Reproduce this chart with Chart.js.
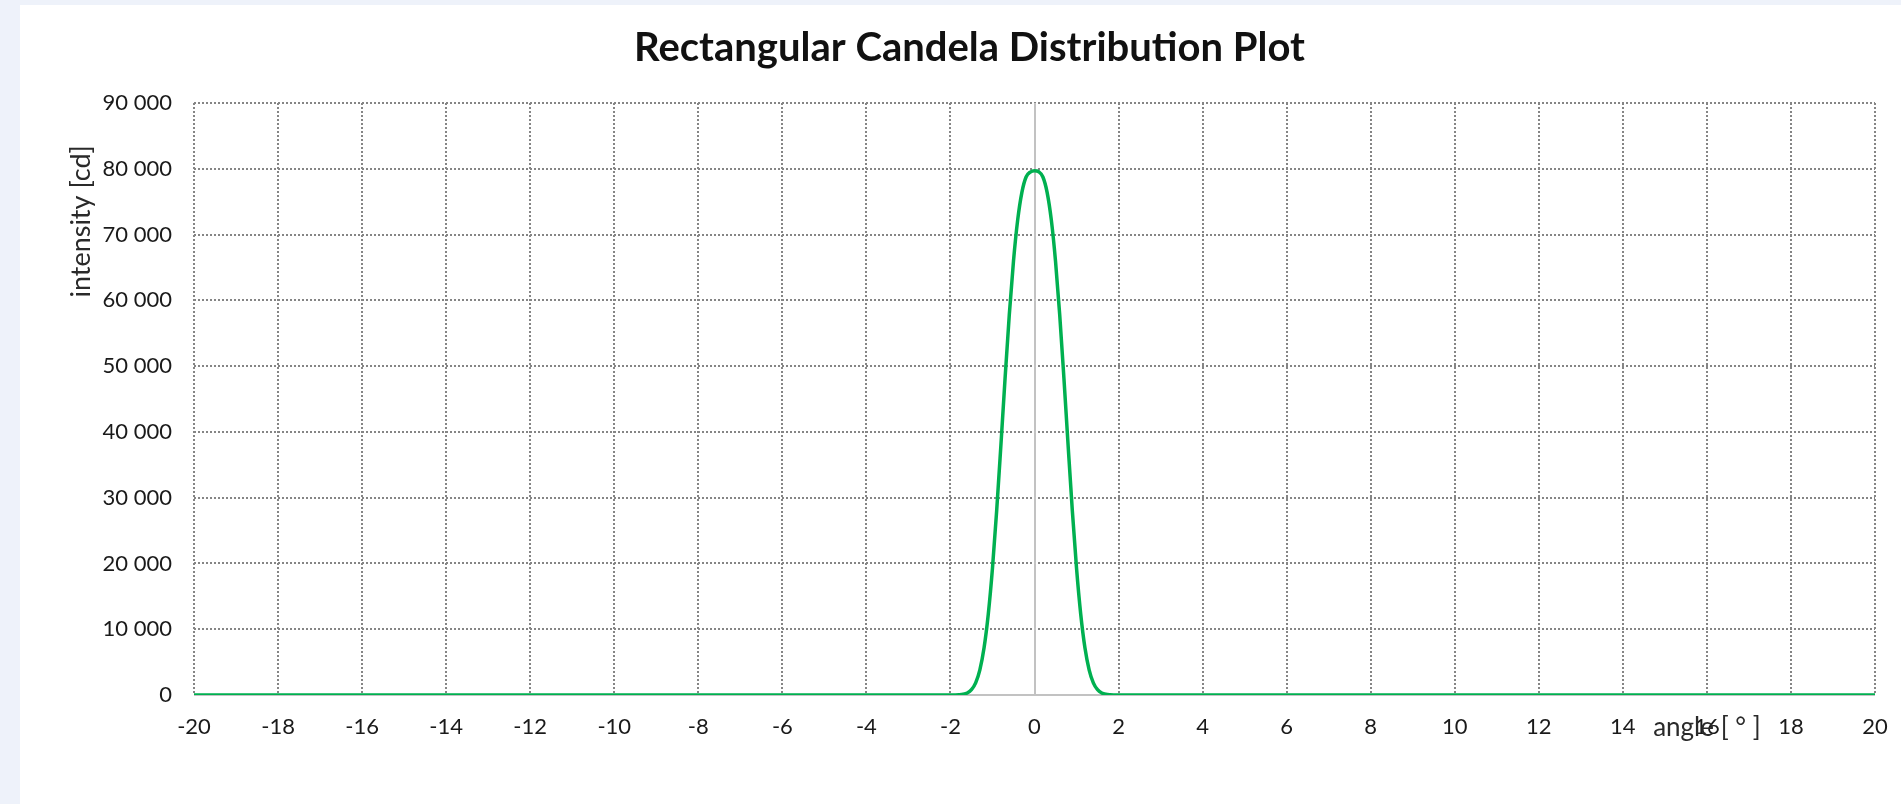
<!DOCTYPE html>
<html>
<head>
<meta charset="utf-8">
<title>Rectangular Candela Distribution Plot</title>
<script src="https://cdn.jsdelivr.net/npm/chart.js@4/dist/chart.umd.min.js"></script>
<style>
  html, body { margin: 0; padding: 0; width: 1901px; height: 804px; overflow: hidden; background: #eef2fa; }
  #card { position: absolute; left: 20px; top: 5px; width: 1899px; height: 799px; background: #ffffff; }
  #plot { display: block; }
</style>
</head>
<body>
<div id="card"><canvas id="plot" width="1899" height="799"></canvas></div>
<script>
// Beam profile: angle in degrees, luminous intensity in candela
const angles = [
  -20, -2, -1.9, -1.8, -1.7, -1.6, -1.5, -1.4, -1.3, -1.2, -1.1, -1.0,
  -0.9, -0.8, -0.7, -0.6, -0.5, -0.4, -0.3, -0.2, -0.1, 0,
  0.1, 0.2, 0.3, 0.4, 0.5, 0.6, 0.7, 0.8, 0.9, 1.0,
  1.1, 1.2, 1.3, 1.4, 1.5, 1.6, 1.7, 1.8, 1.9, 2, 20
];
const intensity = [
  0, 2, 9, 32, 106, 310, 800, 1840, 3820, 7170, 12270, 19280,
  28030, 37930, 48160, 57780, 65970, 72230, 76420, 78750, 79500, 79700,
  79550, 78750, 76420, 72230, 65970, 57780, 48160, 37930, 28030, 19280,
  12270, 7170, 3820, 1840, 800, 310, 106, 32, 9, 2, 0
];

const chartTitle = 'Rectangular Candela Distribution Plot';
const xAxisTitle = 'angle [ ° ]';
const yAxisTitle = 'intensity [cd]';

const FONT = "Lato, 'Open Sans', sans-serif";
const GRID = '#858585';
const AXIS = '#c2c2c2';
const LINE = '#00b050';

function spaced(v) {
  return String(v).replace(/\B(?=(\d{3})+(?!\d))/g, ' ');
}

// Solid axis lines through x = 0 and y = 0, plus the two axis captions
const axisDecor = {
  id: 'axisDecor',
  beforeDatasetsDraw(chart) {
    const { ctx, chartArea: a, scales: { x, y } } = chart;
    ctx.save();
    ctx.strokeStyle = AXIS;
    ctx.lineWidth = 2;
    const x0 = Math.round(x.getPixelForValue(0));
    const y0 = Math.round(y.getPixelForValue(0));
    ctx.beginPath();
    ctx.moveTo(x0, a.top);
    ctx.lineTo(x0, a.bottom);
    ctx.moveTo(a.left, y0);
    ctx.lineTo(a.right, y0);
    ctx.stroke();
    ctx.restore();
  },
  afterDraw(chart) {
    const { ctx, chartArea: a, scales: { x, y } } = chart;
    ctx.save();
    ctx.fillStyle = '#2a2a2a';
    ctx.font = '26px ' + FONT;
    ctx.textAlign = 'center';
    ctx.textBaseline = 'middle';
    ctx.fillText(xAxisTitle, x.getPixelForValue(16), a.bottom + 33);
    ctx.translate(a.left - 113, y.getPixelForValue(72000));
    ctx.rotate(-Math.PI / 2);
    ctx.font = '27px ' + FONT;
    ctx.fillText(yAxisTitle, 0, 0);
    ctx.restore();
  }
};

new Chart(document.getElementById('plot'), {
  type: 'line',
  data: {
    datasets: [{
      data: angles.map((a, i) => ({ x: a, y: intensity[i] })),
      borderColor: LINE,
      borderWidth: 3.5,
      pointRadius: 0,
      fill: false,
      cubicInterpolationMode: 'monotone'
    }]
  },
  options: {
    responsive: false,
    animation: false,
    layout: { padding: 0 },
    plugins: {
      legend: { display: false },
      tooltip: { enabled: false },
      title: {
        display: true,
        text: chartTitle,
        color: '#111111',
        font: { family: FONT, size: 40, weight: 'bold' },
        padding: { top: 19, bottom: 31 }
      }
    },
    scales: {
      x: {
        type: 'linear',
        min: -20,
        max: 20,
        afterFit(scale) { scale.height = 109; },
        border: { display: false, dash: [2, 2] },
        grid: { color: GRID, lineWidth: 2, drawTicks: false },
        ticks: {
          stepSize: 2,
          padding: 19,
          color: '#1a1a1a',
          font: { family: FONT, size: 22 },
          maxRotation: 0
        }
      },
      y: {
        min: 0,
        max: 90000,
        afterFit(scale) { scale.width = 174; },
        border: { display: false, dash: [2, 2] },
        grid: { color: GRID, lineWidth: 2, drawTicks: false },
        ticks: {
          stepSize: 10000,
          padding: 22,
          color: '#1a1a1a',
          font: { family: FONT, size: 22 },
          callback: v => spaced(v)
        }
      },
      // empty right-hand margin strip beside the plot
      margin: {
        type: 'linear',
        position: 'right',
        display: true,
        afterFit(scale) { scale.width = 44; },
        border: { display: false },
        grid: { display: false, drawTicks: false },
        ticks: { display: false }
      }
    }
  },
  plugins: [axisDecor]
});
</script>
</body>
</html>
